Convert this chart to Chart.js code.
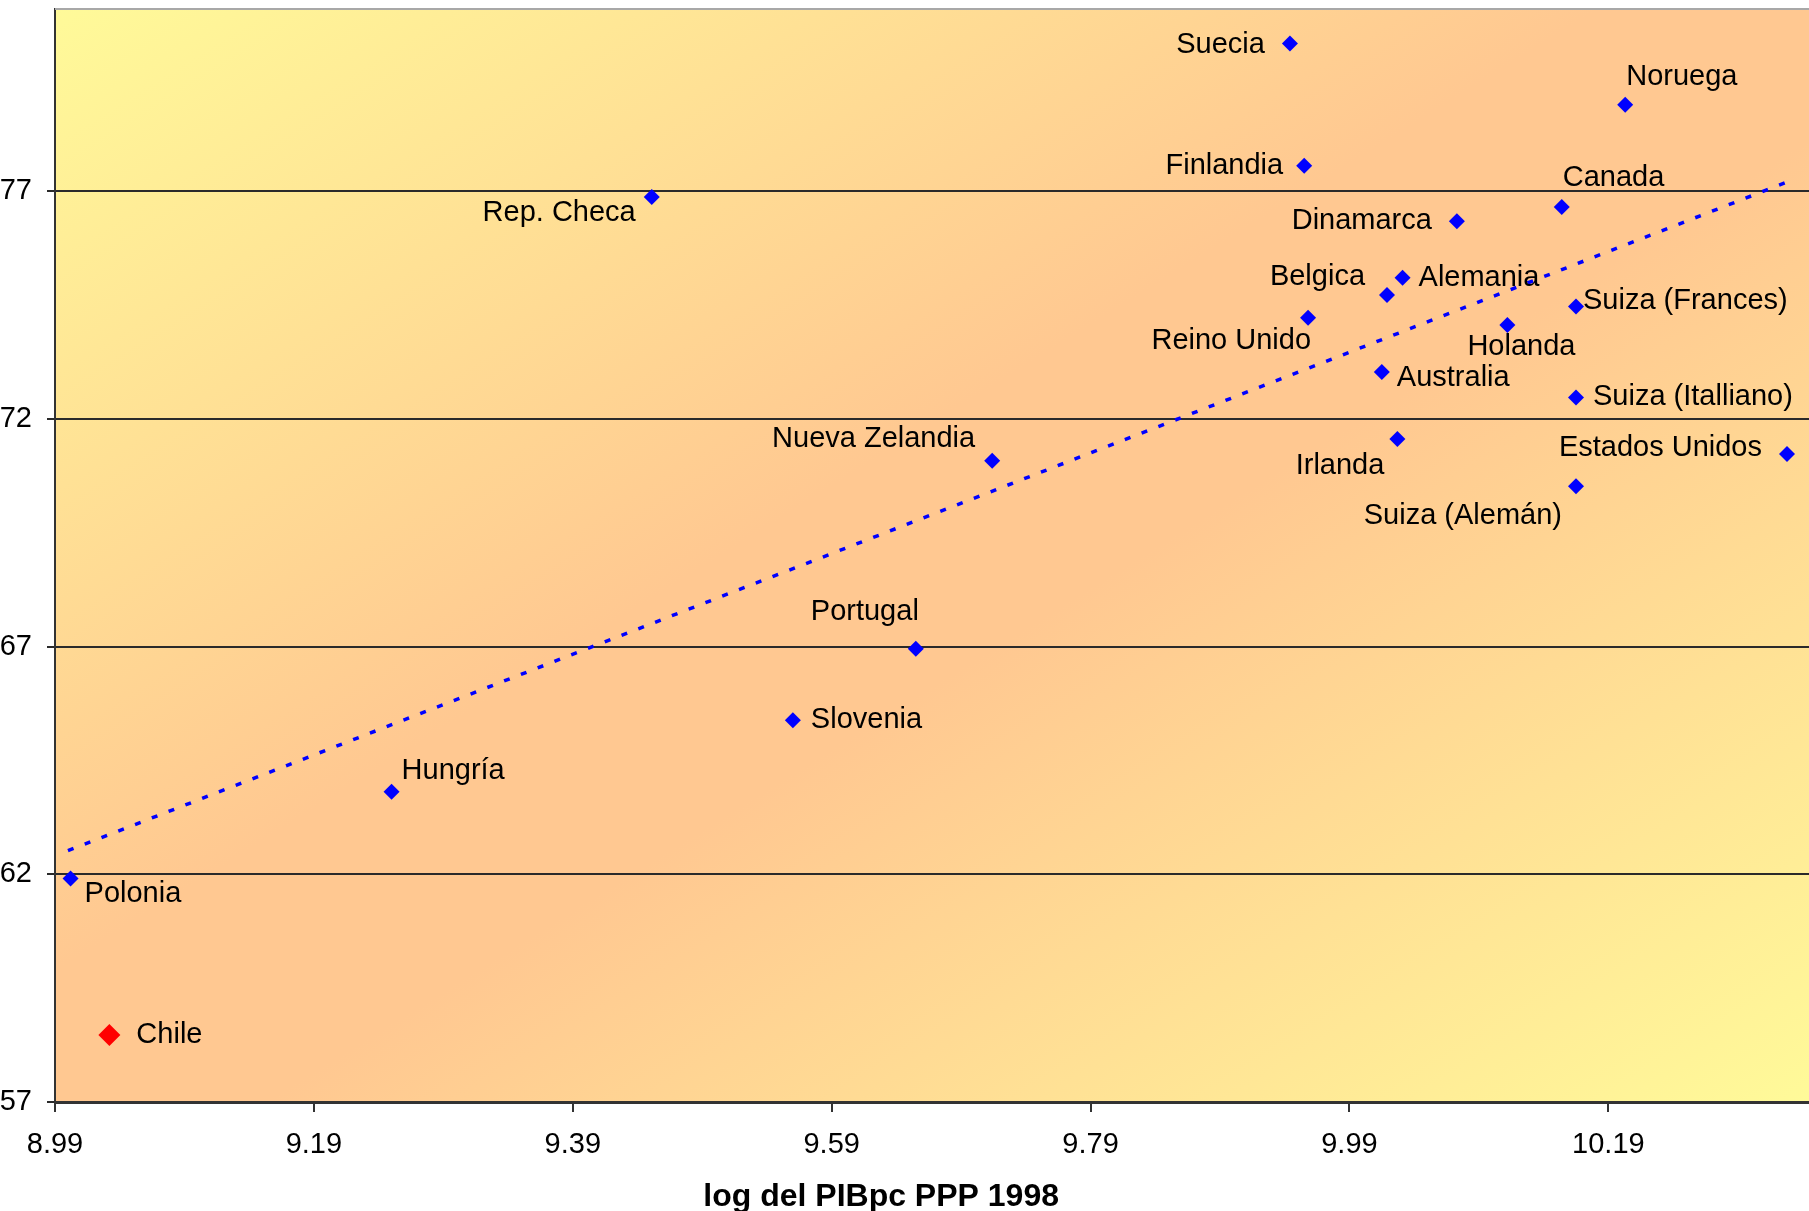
<!DOCTYPE html>
<html>
<head>
<meta charset="utf-8">
<script src="https://cdn.jsdelivr.net/npm/chart.js@4"></script>
<style>
  html, body { margin: 0; padding: 0; background: #ffffff; overflow: hidden; }
  #wrap { width: 1809px; height: 1211px; }
</style>
</head>
<body>
<div id="wrap"><canvas id="c" width="1809" height="1211"></canvas></div>
<script>
// ---- Data ----
const categories = ['Suecia', 'Noruega', 'Finlandia', 'Rep. Checa', 'Canada', 'Dinamarca',
  'Alemania', 'Belgica', 'Suiza (Frances)', 'Reino Unido', 'Holanda', 'Australia',
  'Suiza (Italliano)', 'Irlanda', 'Estados Unidos', 'Suiza (Alemán)', 'Nueva Zelandia',
  'Portugal', 'Slovenia', 'Hungría', 'Polonia'];
const logGdp = [9.944, 10.203, 9.955, 9.451, 10.154, 10.073,
  10.031, 10.019, 10.165, 9.958, 10.112, 10.015,
  10.165, 10.027, 10.328, 10.165, 9.714,
  9.655, 9.560, 9.250, 9.002];
const score = [80.24, 78.90, 77.56, 76.87, 76.65, 76.34,
  75.10, 74.72, 74.47, 74.22, 74.06, 73.03,
  72.47, 71.56, 71.23, 70.52, 71.08,
  66.95, 65.38, 63.81, 61.91];
const chileCategory = ['Chile'];
const chileLogGdp = [9.032];
const chileScore = [58.47];
const trendX = [9.000, 10.328];
const trendY = [62.52, 77.20];
const xTickValues = [8.99, 9.19, 9.39, 9.59, 9.79, 9.99, 10.19];
const yTickValues = [57, 62, 67, 72, 77];
const xTitle = 'log del PIBpc PPP 1998';

// ---- Label placement (layout only): [textAlign, dx, dy] relative to the marker ----
const labelPlacement = {
  'Suecia': ['right', -25, 1],
  'Noruega': ['left', 1, -28],
  'Finlandia': ['right', -21, 0],
  'Rep. Checa': ['right', -16, 16],
  'Canada': ['left', 1, -29],
  'Dinamarca': ['right', -25, 0],
  'Alemania': ['left', 16, 0],
  'Belgica': ['right', -22, -18],
  'Suiza (Frances)': ['left', 7, -5],
  'Reino Unido': ['right', 3, 23],
  'Holanda': ['left', -40, 22],
  'Australia': ['left', 15, 6],
  'Suiza (Italliano)': ['left', 17, 0],
  'Irlanda': ['right', -13, 27],
  'Estados Unidos': ['right', -25, -6],
  'Suiza (Alemán)': ['right', -14, 30],
  'Nueva Zelandia': ['right', -17, -22],
  'Portugal': ['right', 3, -37],
  'Slovenia': ['left', 18, 0],
  'Hungría': ['left', 10, -21],
  'Polonia': ['left', 14, 16],
  'Chile': ['left', 27, 0]
};

const FONT = '"Liberation Sans", Arial, sans-serif';

function zeroPadding(scale) {
  scale.paddingTop = 0; scale.paddingBottom = 0;
  scale.paddingLeft = 0; scale.paddingRight = 0;
}

const bgPlugin = {
  id: 'bgPlugin',
  beforeDraw(chart) {
    const { ctx, chartArea: a } = chart;
    const W = a.right - a.left, H = a.bottom - a.top;
    const cx = (a.left + a.right) / 2, cy = (a.top + a.bottom) / 2;
    const k = W * H / (W * W + H * H);
    const g = ctx.createLinearGradient(cx - H * k, cy - W * k, cx + H * k, cy + W * k);
    g.addColorStop(0, '#FFFA99');
    g.addColorStop(0.44, '#FFC891');
    g.addColorStop(0.56, '#FFC891');
    g.addColorStop(1, '#FFFA99');
    ctx.save();
    ctx.fillStyle = g;
    ctx.fillRect(a.left, a.top, W, H);
    ctx.restore();
  },
  afterDraw(chart) {
    const { ctx, chartArea: a } = chart;
    ctx.save();
    ctx.strokeStyle = '#a8a8a8';
    ctx.lineWidth = 2;
    ctx.beginPath();
    ctx.moveTo(a.left, a.top);
    ctx.lineTo(a.right, a.top);
    ctx.stroke();
    // axis title
    ctx.font = 'bold 32px ' + FONT;
    ctx.fillStyle = '#000';
    ctx.textAlign = 'center';
    ctx.textBaseline = 'alphabetic';
    ctx.fillText(xTitle, a.left + (a.right - a.left) * 0.471, 1206);
    ctx.restore();
  }
};

const labelPlugin = {
  id: 'labelPlugin',
  afterDatasetsDraw(chart) {
    const { ctx } = chart;
    ctx.save();
    ctx.font = '29px ' + FONT;
    ctx.fillStyle = '#000';
    ctx.textBaseline = 'middle';
    chart.data.datasets.forEach((ds, di) => {
      if (!ds.pointLabels) return;
      const meta = chart.getDatasetMeta(di);
      meta.data.forEach((el, i) => {
        const name = ds.pointLabels[i];
        const p = labelPlacement[name] || ['left', 10, 0];
        ctx.textAlign = p[0];
        ctx.fillText(name, el.x + p[1], el.y + p[2]);
      });
    });
    ctx.restore();
  }
};

new Chart(document.getElementById('c'), {
  type: 'scatter',
  data: {
    datasets: [
      {
        label: 'Países',
        data: logGdp.map((x, i) => ({ x: x, y: score[i] })),
        pointLabels: categories,
        pointStyle: 'rectRot',
        pointRadius: 8,
        pointHoverRadius: 8,
        backgroundColor: '#0000FF',
        borderColor: '#0000FF',
        borderWidth: 0,
        order: 1
      },
      {
        label: 'Chile',
        data: chileLogGdp.map((x, i) => ({ x: x, y: chileScore[i] })),
        pointLabels: chileCategory,
        pointStyle: 'rectRot',
        pointRadius: 11,
        pointHoverRadius: 11,
        backgroundColor: '#FF0000',
        borderColor: '#FF0000',
        borderWidth: 0,
        order: 1
      },
      {
        label: 'Tendencia',
        type: 'line',
        data: trendX.map((x, i) => ({ x: x, y: trendY[i] })),
        borderColor: '#0000FF',
        borderWidth: 3.5,
        borderDash: [6, 12],
        pointRadius: 0,
        fill: false,
        order: 2
      }
    ]
  },
  options: {
    responsive: false,
    devicePixelRatio: 1,
    animation: false,
    layout: { autoPadding: false, padding: { top: 9, right: 0, left: 0, bottom: 0 } },
    plugins: {
      legend: { display: false },
      tooltip: { enabled: false }
    },
    scales: {
      x: {
        type: 'linear',
        min: 8.99,
        max: 10.345,
        afterBuildTicks(scale) { scale.ticks = xTickValues.map(v => ({ value: v })); },
        afterFit(scale) { scale.height = 109; zeroPadding(scale); },
        ticks: {
          autoSkip: false,
          maxRotation: 0,
          padding: 16,
          color: '#000',
          font: { family: FONT, size: 29 },
          callback: (v) => Number(v).toFixed(2)
        },
        grid: {
          drawOnChartArea: false,
          drawTicks: true,
          tickLength: 10,
          color: '#333',
          lineWidth: 2
        },
        border: { display: true, color: '#333', width: 3 },
        title: { display: false }
      },
      y: {
        type: 'linear',
        min: 57,
        max: 81,
        afterBuildTicks(scale) { scale.ticks = yTickValues.map(v => ({ value: v })); },
        afterFit(scale) { scale.width = 55; zeroPadding(scale); },
        ticks: {
          padding: 15,
          color: '#000',
          font: { family: FONT, size: 29 }
        },
        grid: {
          drawOnChartArea: true,
          drawTicks: true,
          tickLength: 8,
          color: '#2a2a2a',
          lineWidth: 2
        },
        border: { display: true, color: '#333', width: 2 }
      }
    }
  },
  plugins: [bgPlugin, labelPlugin]
});
</script>
</body>
</html>
